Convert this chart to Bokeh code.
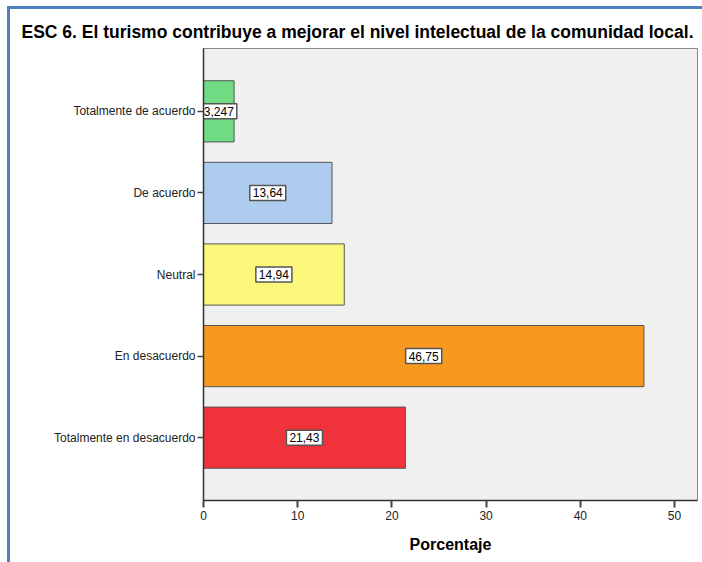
from bokeh.plotting import figure
from bokeh.models import ColumnDataSource, FactorRange, Range1d, FixedTicker, InlineStyleSheet
from bokeh.core.properties import value
from bokeh.embed import file_html
from bokeh.resources import INLINE

categories = ["Totalmente de acuerdo", "De acuerdo", "Neutral", "En desacuerdo", "Totalmente en desacuerdo"]
percentages = [3.247, 13.64, 14.94, 46.75, 21.43]
value_labels = ["3,247", "13,64", "14,94", "46,75", "21,43"]
bar_colors = ["#6fdc84", "#aecdee", "#fbf77a", "#f7991f", "#f0333b"]
x_ticks = [0, 10, 20, 30, 40, 50]
title_text = "ESC 6. El turismo contribuye a mejorar el nivel intelectual de la comunidad local."
x_label = "Porcentaje"

FONT = "Liberation Sans"

src = ColumnDataSource(dict(cat=categories, val=percentages,
                            half=[v / 2 for v in percentages],
                            lbl=value_labels, color=bar_colors))

p = figure(width=702, height=562, output_backend="svg", toolbar_location=None,
           y_range=FactorRange(factors=categories[::-1], range_padding=0.27,
                               range_padding_units="absolute"),
           x_range=Range1d(0, 52.44),
           min_border_left=203, min_border_right=5, min_border_top=48, min_border_bottom=62)

p.background_fill_color = "#f0f0f0"
p.border_fill_color = "white"
p.outline_line_color = "#888888"
p.grid.visible = False

p.title.text = title_text
p.title.text_font = FONT
p.title.text_font_size = "17.5px"
p.title.text_font_style = "bold"
p.title.text_color = "black"
p.title.align = "left"
p.title.offset = -182
p.title.standoff = 13

p.hbar(y="cat", left=0, right="val", height=0.75, fill_color="color",
       line_color="#555555", line_width=1, source=src)

p.text(x="half", y="cat", text="lbl", source=src, text_align="center",
       text_baseline="middle", text_font=value(FONT), text_font_size="12px",
       text_color="black", background_fill_color="white",
       border_line_color="#555555", border_line_width=1.5, padding=3)

xa = p.xaxis[0]
xa.ticker = FixedTicker(ticks=x_ticks)
xa.minor_tick_line_color = None
xa.major_tick_in = 0
xa.major_tick_out = 7
xa.major_tick_line_width = 2
xa.major_tick_line_color = "#444444"
xa.axis_line_color = "#333333"
xa.axis_line_width = 1.5
xa.major_label_text_font = FONT
xa.major_label_text_font_size = "12px"
xa.major_label_text_color = "#222222"
xa.major_label_standoff = 3
xa.axis_label = x_label
xa.axis_label_text_font = FONT
xa.axis_label_text_font_size = "16px"
xa.axis_label_text_font_style = "bold"
xa.axis_label_text_color = "black"
xa.axis_label_standoff = 13

ya = p.yaxis[0]
ya.major_tick_in = 0
ya.major_tick_out = 6
ya.major_tick_line_width = 1.5
ya.major_tick_line_color = "#444444"
ya.axis_line_color = "#333333"
ya.axis_line_width = 1.5
ya.major_label_text_font = FONT
ya.major_label_text_font_size = "12px"
ya.major_label_text_color = "#222222"
ya.major_label_standoff = 2

p.stylesheets = [InlineStyleSheet(css="""
:host { position: relative; }
:host::before { content: ''; position: absolute; left: 7px; top: 6px; width: 3px;
  height: 556px; background: #4f81bd; z-index: 20; pointer-events: none; }
:host::after { content: ''; position: absolute; left: 7px; top: 6px; width: 695px;
  height: 3px; background: #4f81bd; z-index: 20; pointer-events: none; }
""")]

open("out.html", "w").write(file_html(p, INLINE))
